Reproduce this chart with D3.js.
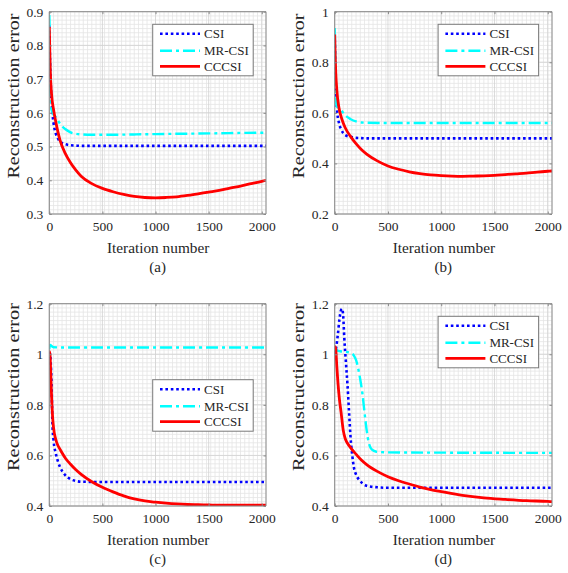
<!DOCTYPE html>
<html><head><meta charset="utf-8">
<script src="https://cdn.jsdelivr.net/npm/d3@7"></script>
<style>
body{margin:0;background:#fff}
svg{display:block}
svg text{font-family:"Liberation Serif","Times New Roman",Tinos,"DejaVu Serif",serif !important;fill:#262626}
</style></head>
<body><script>
// ---------- data ----------
const seriesNames = ["CSI", "MR-CSI", "CCCSI"];
const xTicks = [0, 500, 1000, 1500, 2000];
const yTicksA = [0.3, 0.4, 0.5, 0.6, 0.7, 0.8, 0.9];
const yTicksB = [0.2, 0.4, 0.6, 0.8, 1];
const yTicksC = [0.4, 0.6, 0.8, 1, 1.2];
const yTicksD = [0.4, 0.6, 0.8, 1, 1.2];
const captions = ["(a)", "(b)", "(c)", "(d)"];

// panel (a)
const csiA_x = [0,5,10,20,40,60,80,100,150,200,250,300,500,1000,1500,2040];
const csiA_y = [0.86,0.78,0.72,0.64,0.57,0.54,0.525,0.515,0.507,0.504,0.503,0.502,0.502,0.502,0.502,0.502];
const mrA_x = [0,3,6,10,20,40,60,80,100,150,200,250,300,400,600,800,1000,1500,2000,2040];
const mrA_y = [0.89,0.85,0.75,0.66,0.61,0.595,0.588,0.578,0.568,0.552,0.542,0.538,0.536,0.535,0.535,0.536,0.537,0.539,0.541,0.541];
const ccA_x = [0,5,10,20,40,60,80,100,150,200,250,300,400,500,600,700,800,900,1000,1100,1200,1300,1400,1500,1600,1700,1800,1900,2000,2040];
const ccA_y = [0.855,0.78,0.72,0.66,0.61,0.575,0.545,0.52,0.48,0.452,0.43,0.412,0.39,0.376,0.366,0.358,0.352,0.349,0.348,0.349,0.351,0.355,0.36,0.365,0.37,0.377,0.383,0.39,0.397,0.4];

// panel (b)
const csiB_x = [0,5,10,20,40,60,80,100,150,200,250,300,500,1000,1500,2040];
const csiB_y = [0.91,0.8,0.7,0.62,0.56,0.535,0.52,0.512,0.505,0.501,0.5,0.499,0.499,0.499,0.499,0.499];
const mrB_x = [0,3,6,10,20,40,60,80,100,150,200,250,300,500,1000,1500,2040];
const mrB_y = [0.935,0.88,0.75,0.66,0.625,0.62,0.61,0.6,0.59,0.575,0.566,0.562,0.561,0.56,0.56,0.56,0.56];
const ccB_x = [0,5,10,20,40,60,80,100,150,200,250,300,400,500,600,700,800,900,1000,1100,1200,1300,1400,1500,1600,1700,1800,1900,2000,2040];
const ccB_y = [0.91,0.82,0.76,0.69,0.62,0.585,0.56,0.54,0.506,0.478,0.455,0.437,0.41,0.39,0.377,0.367,0.36,0.355,0.352,0.35,0.349,0.35,0.351,0.353,0.356,0.359,0.362,0.366,0.369,0.37];

// panel (c)
const csiC_x = [0,5,10,20,30,40,60,80,100,150,200,250,300,500,1000,1500,2040];
const csiC_y = [1.0,1.005,0.99,0.9,0.72,0.66,0.61,0.578,0.555,0.522,0.506,0.499,0.496,0.495,0.495,0.495,0.495];
const mrC_x = [0,5,10,20,40,100,500,1000,1500,2040];
const mrC_y = [1.02,1.035,1.037,1.033,1.028,1.027,1.027,1.027,1.027,1.027];
const ccC_x = [0,5,10,20,30,40,60,80,100,150,200,250,300,400,500,600,700,800,900,1000,1100,1200,1300,1400,1500,1600,1800,2000,2040];
const ccC_y = [0.97,1.01,0.97,0.85,0.76,0.71,0.665,0.64,0.625,0.59,0.565,0.543,0.525,0.496,0.474,0.456,0.44,0.428,0.42,0.415,0.411,0.408,0.406,0.405,0.404,0.403,0.403,0.403,0.403];

// panel (d)
const csiD_x = [0,15,30,45,60,70,80,90,100,110,120,135,150,165,180,200,230,260,300,400,500,1000,1500,2040];
const csiD_y = [1.0,1.03,1.08,1.14,1.175,1.18,1.15,1.065,1.0,0.94,0.88,0.77,0.665,0.6,0.553,0.525,0.503,0.49,0.48,0.474,0.472,0.472,0.472,0.472];
const mrD_x = [0,10,25,50,100,150,180,200,220,240,260,280,300,320,340,370,400,500,1000,2040];
const mrD_y = [1.0,1.02,1.015,1.012,1.01,1.005,0.995,0.978,0.945,0.9,0.845,0.77,0.7,0.65,0.628,0.618,0.614,0.612,0.611,0.61];
const ccD_x = [0,3,10,20,30,45,60,80,100,120,150,200,250,300,400,500,600,700,800,900,1000,1200,1400,1600,1800,2000,2040];
const ccD_y = [0.98,1.03,1.02,0.95,0.89,0.82,0.77,0.7,0.665,0.648,0.63,0.605,0.582,0.564,0.537,0.516,0.5,0.487,0.475,0.465,0.457,0.442,0.432,0.426,0.421,0.418,0.417];

// ---------- layout / style ----------
const W = 568, H = 573;
const xMax = 2040;
const FONT = '"Liberation Serif","Times New Roman",Tinos,"DejaVu Serif",serif';
const colors = ["#0000ff", "#00ffff", "#ff0000"];
const dashes = ["2.6,2.8", "12,4,3,4", null];
const widths = [2.6, 2.4, 2.8];

const panels = [
  {left:49.3, right:266, top:11.7, bottom:214, ydom:[0.3,0.9], yt:yTicksA, ystep:0.0125,
   data:[[csiA_x,csiA_y],[mrA_x,mrA_y],[ccA_x,ccA_y]], legTop:24.3, ylabCy:96, ylabLen:165},
  {left:334.7, right:552, top:11.7, bottom:214, ydom:[0.2,1], yt:yTicksB, ystep:0.2/12,
   data:[[csiB_x,csiB_y],[mrB_x,mrB_y],[ccB_x,ccB_y]], legTop:24.3, ylabCy:96, ylabLen:165},
  {left:49.3, right:266, top:303.7, bottom:506, ydom:[0.4,1.2], yt:yTicksC, ystep:0.2/12,
   data:[[csiC_x,csiC_y],[mrC_x,mrC_y],[ccC_x,ccC_y]], legTop:379.7, ylabCy:387, ylabLen:168},
  {left:334.7, right:552, top:303.7, bottom:506, ydom:[0.4,1.2], yt:yTicksD, ystep:0.2/12,
   data:[[csiD_x,csiD_y],[mrD_x,mrD_y],[ccD_x,ccD_y]], legTop:316.3, ylabCy:387, ylabLen:168}
];

const svg = d3.select("body").append("svg").attr("width", W).attr("height", H)
  .attr("font-family", FONT);
const defs = svg.append("defs");

panels.forEach((p, i) => {
  const x = d3.scaleLinear().domain([0, xMax]).range([p.left, p.right]);
  const y = d3.scaleLinear().domain(p.ydom).range([p.bottom, p.top]);
  const g = svg.append("g");

  // minor grid
  const xMinor = d3.range(0, xMax + 0.001, 40);
  const nY = Math.round((p.ydom[1] - p.ydom[0]) / p.ystep);
  const yMinor = d3.range(0, nY + 1).map(k => p.ydom[0] + k * p.ystep);
  g.selectAll(".gx").data(xMinor).join("line")
    .attr("x1", d => x(d)).attr("x2", d => x(d)).attr("y1", p.top).attr("y2", p.bottom)
    .attr("stroke", "#e4e4e4").attr("stroke-width", 0.8);
  g.selectAll(".gy").data(yMinor).join("line")
    .attr("y1", d => y(d)).attr("y2", d => y(d)).attr("x1", p.left).attr("x2", p.right)
    .attr("stroke", "#e4e4e4").attr("stroke-width", 0.8);
  // major grid
  g.selectAll(".mx").data(xTicks).join("line")
    .attr("x1", d => x(d)).attr("x2", d => x(d)).attr("y1", p.top).attr("y2", p.bottom)
    .attr("stroke", "#d2d2d2").attr("stroke-width", 0.8);
  g.selectAll(".my").data(p.yt).join("line")
    .attr("y1", d => y(d)).attr("y2", d => y(d)).attr("x1", p.left).attr("x2", p.right)
    .attr("stroke", "#d2d2d2").attr("stroke-width", 0.8);

  // clip
  const cid = "clip" + i;
  defs.append("clipPath").attr("id", cid).append("rect")
    .attr("x", p.left).attr("y", p.top).attr("width", p.right - p.left).attr("height", p.bottom - p.top);

  // lines
  const lineGen = d3.line().x(d => x(d[0])).y(d => y(d[1])).curve(d3.curveMonotoneX);
  p.data.forEach((s, k) => {
    const pts = s[0].map((v, j) => [v, s[1][j]]);
    g.append("path").attr("d", lineGen(pts)).attr("fill", "none")
      .attr("clip-path", `url(#${cid})`)
      .attr("stroke", colors[k]).attr("stroke-width", widths[k])
      .attr("stroke-dasharray", dashes[k]);
  });

  // axes
  const axB = d3.axisBottom(x).tickValues(xTicks).tickSize(-2.5).tickPadding(7).tickFormat(d3.format("d"));
  const axT = d3.axisTop(x).tickValues(xTicks).tickSize(-2.5).tickFormat("");
  const axL = d3.axisLeft(y).tickValues(p.yt).tickSize(-2.5).tickPadding(6).tickFormat(d => String(+d.toFixed(2)));
  const axR = d3.axisRight(y).tickValues(p.yt).tickSize(-2.5).tickFormat("");
  const style = sel => {
    sel.attr("font-family", FONT).attr("font-size", 13.5);
    sel.select(".domain").attr("stroke", "#8a8a8a").attr("stroke-width", 1);
    sel.selectAll(".tick line").attr("stroke", "#8a8a8a");
    sel.selectAll("text").attr("fill", "#262626");
  };
  g.append("g").attr("transform", `translate(0,${p.bottom})`).call(axB).call(style)
    .call(s => s.select(".domain").attr("d", `M${p.left},0H${p.right}`));
  g.append("g").attr("transform", `translate(0,${p.top})`).call(axT).call(style)
    .call(s => s.select(".domain").attr("d", `M${p.left},0H${p.right}`));
  g.append("g").attr("transform", `translate(${p.left},0)`).call(axL).call(style)
    .call(s => s.select(".domain").attr("d", `M0,${p.top}V${p.bottom}`));
  g.append("g").attr("transform", `translate(${p.right},0)`).call(axR).call(style)
    .call(s => s.select(".domain").attr("d", `M0,${p.top}V${p.bottom}`));

  // labels
  const cx = (p.left + p.right) / 2;
  g.append("text").attr("x", cx + 0.5).attr("y", p.bottom + 39).attr("text-anchor", "middle")
    .attr("font-size", 15.3).text("Iteration number");
  g.append("text").attr("x", cx).attr("y", p.bottom + 57.5).attr("text-anchor", "middle")
    .attr("font-size", 15).text(captions[i]);
  const ylx = p.left - 30.8;
  g.append("text").attr("transform", `translate(${ylx},${p.ylabCy}) rotate(-90)`)
    .attr("text-anchor", "middle").attr("font-size", 16.5)
    .attr("textLength", p.ylabLen).attr("lengthAdjust", "spacingAndGlyphs")
    .text("Reconstruction error");

  // legend
  const lx = p.left + 103.4, ly = p.legTop, lw = 100.5, lh = 51.5;
  const lg = g.append("g");
  lg.append("rect").attr("x", lx).attr("y", ly).attr("width", lw).attr("height", lh)
    .attr("fill", "#fff").attr("stroke", "#7a7a7a").attr("stroke-width", 1);
  const rows = [9.5, 26.5, 42];
  seriesNames.forEach((nm, k) => {
    const yy = ly + rows[k];
    lg.append("line").attr("x1", lx + 7.3).attr("x2", lx + 47.3).attr("y1", yy).attr("y2", yy)
      .attr("stroke", colors[k]).attr("stroke-width", widths[k]).attr("stroke-dasharray", dashes[k]);
    lg.append("text").attr("x", lx + 51.3).attr("y", yy + 4.6).attr("font-size", 13).text(nm);
  });
});
</script></body></html>
